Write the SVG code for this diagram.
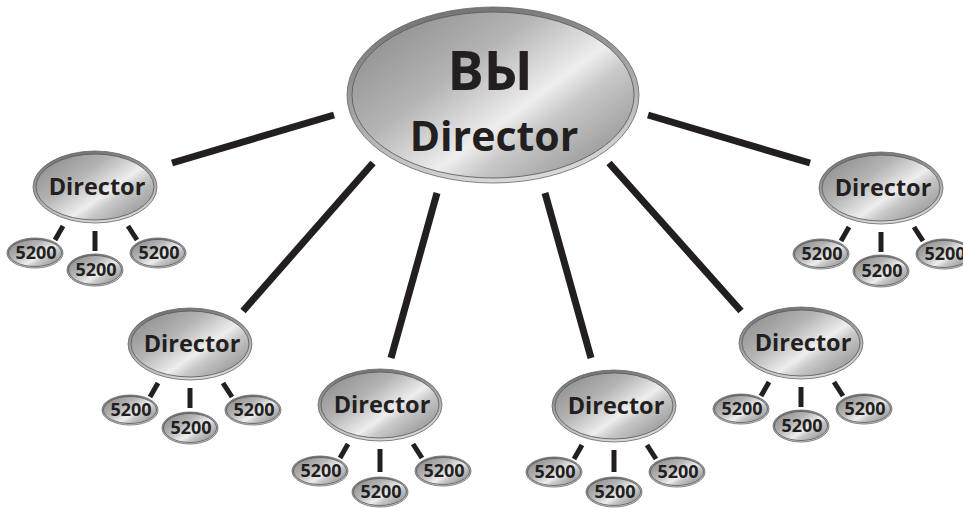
<svg xmlns="http://www.w3.org/2000/svg" width="963" height="508" viewBox="0 0 963 508">
<defs>
<linearGradient id="metal" x1="0" y1="0.1" x2="1" y2="0.9">
<stop offset="0" stop-color="#8a8a8a"/>
<stop offset="0.35" stop-color="#b4b4b4"/>
<stop offset="0.6" stop-color="#eeeeee"/>
<stop offset="0.7" stop-color="#c8c8c8"/>
<stop offset="1" stop-color="#8c8c8c"/>
</linearGradient>
<linearGradient id="rim" x1="0.2" y1="0" x2="0.5" y2="1">
<stop offset="0" stop-color="#6e6e6e"/>
<stop offset="1" stop-color="#d8d8d8"/>
</linearGradient>
<style>
.rim{fill:url(#rim);stroke:#666;stroke-width:0.8}
.face{fill:url(#metal);stroke:#555;stroke-width:0.8}
.t{font-family:"Open Sans","DejaVu Sans",sans-serif;font-weight:bold;fill:#231f20;text-anchor:middle}
.dir{font-size:23.5px}
.num{font-size:18px}
.big{font-size:41px}
.vy{font-size:54px}
.ln{stroke:#231f20;stroke-width:7;fill:none}
.st{stroke:#231f20;stroke-width:5;fill:none}
</style>
</defs>
<rect width="963" height="508" fill="#fff"/>
<g id="connectors">
<line class="ln" x1="334" y1="115" x2="172" y2="163"/>
<line class="ln" x1="373" y1="163" x2="243" y2="311"/>
<line class="ln" x1="437" y1="193" x2="391" y2="358"/>
<line class="ln" x1="545" y1="193" x2="591" y2="358"/>
<line class="ln" x1="609" y1="163" x2="741" y2="311"/>
<line class="ln" x1="648" y1="115" x2="810" y2="163"/>
<line class="st" x1="63" y1="226" x2="55" y2="240"/>
<line class="st" x1="95" y1="231" x2="95" y2="251"/>
<line class="st" x1="128" y1="226" x2="137" y2="240"/>
<line class="st" x1="849" y1="227" x2="841" y2="241"/>
<line class="st" x1="881" y1="232" x2="881" y2="252"/>
<line class="st" x1="914" y1="227" x2="923" y2="241"/>
<line class="st" x1="158" y1="383" x2="150" y2="397"/>
<line class="st" x1="190" y1="388" x2="190" y2="408"/>
<line class="st" x1="223" y1="383" x2="232" y2="397"/>
<line class="st" x1="348" y1="444" x2="340" y2="458"/>
<line class="st" x1="380" y1="449" x2="380" y2="472"/>
<line class="st" x1="413" y1="444" x2="422" y2="458"/>
<line class="st" x1="582" y1="445" x2="574" y2="459"/>
<line class="st" x1="614" y1="450" x2="614" y2="472"/>
<line class="st" x1="647" y1="445" x2="656" y2="459"/>
<line class="st" x1="769" y1="382" x2="761" y2="396"/>
<line class="st" x1="801" y1="387" x2="801" y2="407"/>
<line class="st" x1="834" y1="382" x2="843" y2="396"/>
</g>
<g id="top">
<ellipse class="rim" cx="493" cy="95" rx="146" ry="88"/>
<ellipse class="face" cx="493" cy="95" rx="141" ry="83"/>
<text class="t vy" x="490" y="90">ВЫ</text>
<text class="t big" x="494" y="151">Director</text>
</g>
<g id="dirA">
<ellipse class="rim" cx="95" cy="187" rx="62" ry="36"/>
<ellipse class="face" cx="95" cy="187" rx="59" ry="33"/>
<text class="t dir" x="97" y="195">Director</text>
</g>
<g id="nA1"><ellipse class="rim" cx="35" cy="253" rx="28" ry="15"/><ellipse class="face" cx="35" cy="253" rx="26.5" ry="13.5"/><text class="t num" x="36" y="259">5200</text></g>
<g id="nA2"><ellipse class="rim" cx="95" cy="270" rx="28" ry="16"/><ellipse class="face" cx="95" cy="270" rx="26.5" ry="14.5"/><text class="t num" x="96" y="276">5200</text></g>
<g id="nA3"><ellipse class="rim" cx="158" cy="253" rx="28" ry="15"/><ellipse class="face" cx="158" cy="253" rx="26.5" ry="13.5"/><text class="t num" x="159" y="259">5200</text></g>
<g id="dirB">
<ellipse class="rim" cx="881" cy="188" rx="62" ry="36"/>
<ellipse class="face" cx="881" cy="188" rx="59" ry="33"/>
<text class="t dir" x="883" y="196">Director</text>
</g>
<g id="nB1"><ellipse class="rim" cx="821" cy="254" rx="28" ry="15"/><ellipse class="face" cx="821" cy="254" rx="26.5" ry="13.5"/><text class="t num" x="822" y="260">5200</text></g>
<g id="nB2"><ellipse class="rim" cx="881" cy="271" rx="28" ry="16"/><ellipse class="face" cx="881" cy="271" rx="26.5" ry="14.5"/><text class="t num" x="882" y="277">5200</text></g>
<g id="nB3"><ellipse class="rim" cx="944" cy="254" rx="28" ry="15"/><ellipse class="face" cx="944" cy="254" rx="26.5" ry="13.5"/><text class="t num" x="945" y="260">5200</text></g>
<g id="dirC">
<ellipse class="rim" cx="190" cy="344" rx="62" ry="36"/>
<ellipse class="face" cx="190" cy="344" rx="59" ry="33"/>
<text class="t dir" x="192" y="352">Director</text>
</g>
<g id="nC1"><ellipse class="rim" cx="130" cy="410" rx="28" ry="15"/><ellipse class="face" cx="130" cy="410" rx="26.5" ry="13.5"/><text class="t num" x="131" y="416">5200</text></g>
<g id="nC2"><ellipse class="rim" cx="190" cy="428" rx="28" ry="16"/><ellipse class="face" cx="190" cy="428" rx="26.5" ry="14.5"/><text class="t num" x="191" y="434">5200</text></g>
<g id="nC3"><ellipse class="rim" cx="253" cy="410" rx="28" ry="15"/><ellipse class="face" cx="253" cy="410" rx="26.5" ry="13.5"/><text class="t num" x="254" y="416">5200</text></g>
<g id="dirD">
<ellipse class="rim" cx="380" cy="405" rx="62" ry="36"/>
<ellipse class="face" cx="380" cy="405" rx="59" ry="33"/>
<text class="t dir" x="382" y="413">Director</text>
</g>
<g id="nD1"><ellipse class="rim" cx="320" cy="471" rx="28" ry="15"/><ellipse class="face" cx="320" cy="471" rx="26.5" ry="13.5"/><text class="t num" x="321" y="477">5200</text></g>
<g id="nD2"><ellipse class="rim" cx="380" cy="492" rx="28" ry="15"/><ellipse class="face" cx="380" cy="492" rx="26.5" ry="13.5"/><text class="t num" x="381" y="498">5200</text></g>
<g id="nD3"><ellipse class="rim" cx="443" cy="471" rx="28" ry="15"/><ellipse class="face" cx="443" cy="471" rx="26.5" ry="13.5"/><text class="t num" x="444" y="477">5200</text></g>
<g id="dirE">
<ellipse class="rim" cx="614" cy="406" rx="62" ry="36"/>
<ellipse class="face" cx="614" cy="406" rx="59" ry="33"/>
<text class="t dir" x="616" y="414">Director</text>
</g>
<g id="nE1"><ellipse class="rim" cx="554" cy="472" rx="28" ry="15"/><ellipse class="face" cx="554" cy="472" rx="26.5" ry="13.5"/><text class="t num" x="555" y="478">5200</text></g>
<g id="nE2"><ellipse class="rim" cx="614" cy="492" rx="28" ry="15"/><ellipse class="face" cx="614" cy="492" rx="26.5" ry="13.5"/><text class="t num" x="615" y="498">5200</text></g>
<g id="nE3"><ellipse class="rim" cx="677" cy="472" rx="28" ry="15"/><ellipse class="face" cx="677" cy="472" rx="26.5" ry="13.5"/><text class="t num" x="678" y="478">5200</text></g>
<g id="dirF">
<ellipse class="rim" cx="801" cy="343" rx="62" ry="36"/>
<ellipse class="face" cx="801" cy="343" rx="59" ry="33"/>
<text class="t dir" x="803" y="351">Director</text>
</g>
<g id="nF1"><ellipse class="rim" cx="741" cy="409" rx="28" ry="15"/><ellipse class="face" cx="741" cy="409" rx="26.5" ry="13.5"/><text class="t num" x="742" y="415">5200</text></g>
<g id="nF2"><ellipse class="rim" cx="801" cy="426" rx="28" ry="16"/><ellipse class="face" cx="801" cy="426" rx="26.5" ry="14.5"/><text class="t num" x="802" y="432">5200</text></g>
<g id="nF3"><ellipse class="rim" cx="864" cy="409" rx="28" ry="15"/><ellipse class="face" cx="864" cy="409" rx="26.5" ry="13.5"/><text class="t num" x="865" y="415">5200</text></g>
</svg>
